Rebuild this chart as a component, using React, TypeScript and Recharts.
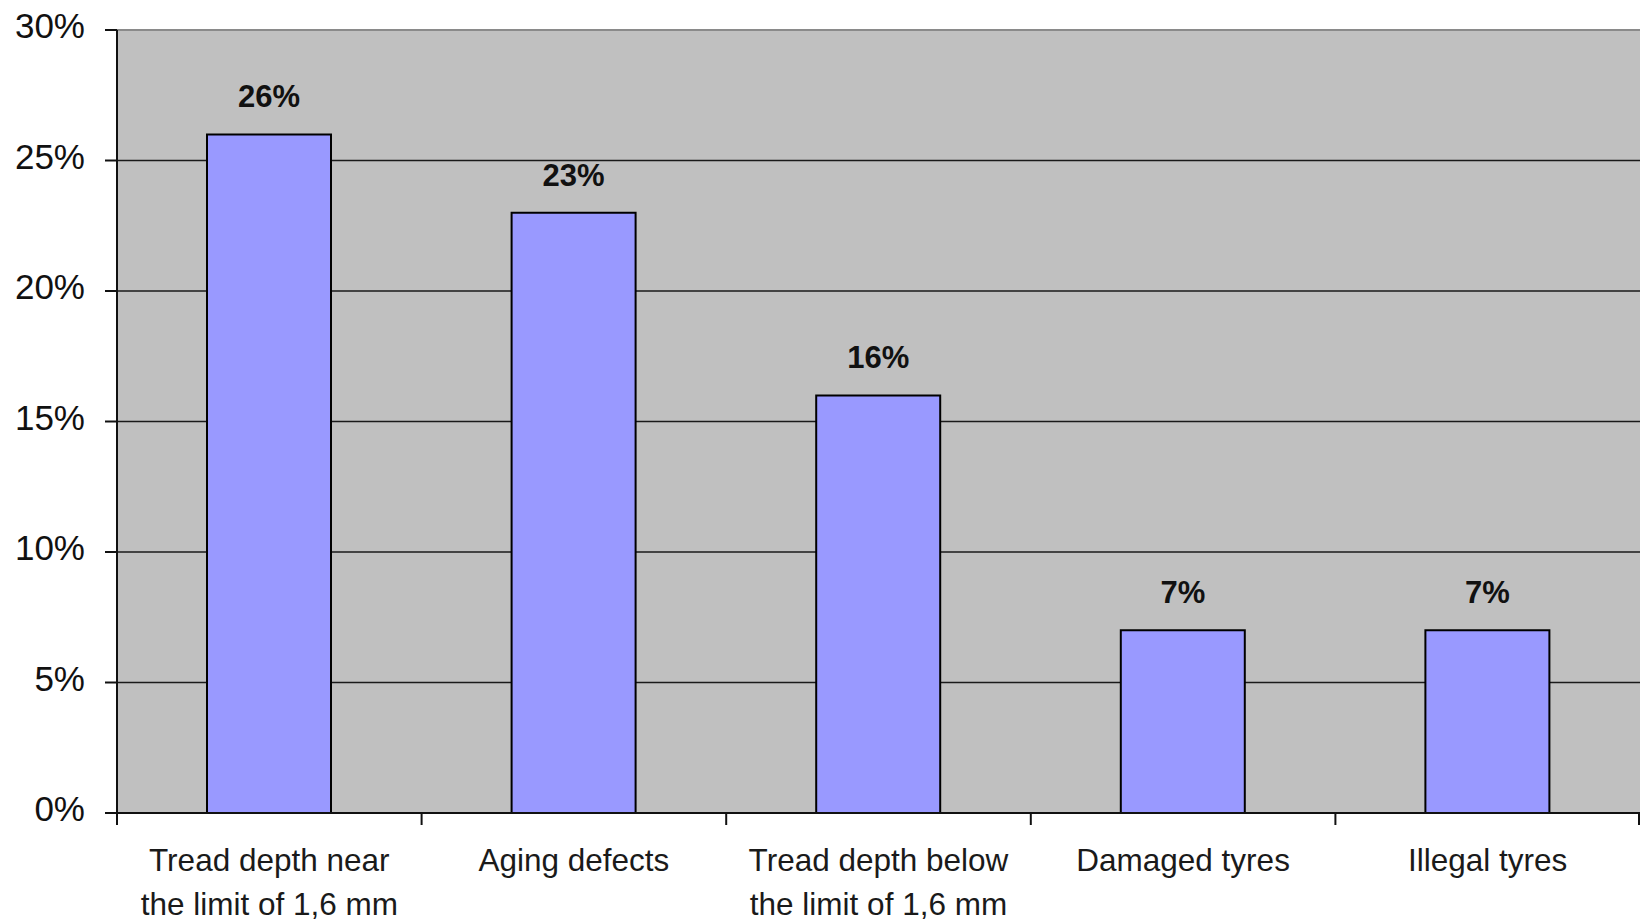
import { BarChart, Bar, XAxis, YAxis, CartesianGrid, LabelList, ReferenceLine } from "recharts";

// ─── Data ────────────────────────────────────────
const categories = [
  "Tread depth near\nthe limit of 1,6 mm",
  "Aging defects",
  "Tread depth below\nthe limit of 1,6 mm",
  "Damaged tyres",
  "Illegal tyres",
];
const shares = [26, 23, 16, 7, 7];
const yTicks = [0, 5, 10, 15, 20, 25, 30];

const data = categories.map((name, i) => ({ name, share: shares[i] }));

// ─── Layout ──────────────────────────────────────
const W = 1640;
const H = 923;
const Y_AXIS_W = 117;
const BAND = (W - Y_AXIS_W) / categories.length;
const FONT = "'Liberation Sans', Arial, sans-serif";

// Category tick: boundary tick marks plus one or two lines of text
function CategoryTick(props: any) {
  const { x, y, payload, index } = props;
  const lines = String(payload.value).split("\n");
  const left = x - BAND / 2;
  const right = x + BAND / 2;
  return (
    <g>
      <line x1={left} y1={y} x2={left} y2={y + 12} stroke="#111" strokeWidth={2} />
      {index === categories.length - 1 && (
        <line x1={right - 1} y1={y} x2={right - 1} y2={y + 12} stroke="#111" strokeWidth={2} />
      )}
      {lines.map((t, i) => (
        <text
          key={i}
          x={x}
          y={y + 58 + i * 44}
          textAnchor="middle"
          fontFamily={FONT}
          fontSize={31.5}
          fill="#1a1a1a"
        >
          {t}
        </text>
      ))}
    </g>
  );
}

export default function App() {
  return (
    <div style={{ position: "absolute", left: 0, top: 0, background: "#fff" }}>
      <BarChart
        width={W}
        height={H}
        data={data}
        margin={{ top: 30, right: 0, left: 0, bottom: 0 }}
      >
        <CartesianGrid
          vertical={false}
          fill="#C0C0C0"
          stroke="#1a1a1a"
          strokeWidth={1.5}
        />
        <ReferenceLine y={30} stroke="#8a8a8a" strokeWidth={2} />
        <XAxis
          dataKey="name"
          interval={0}
          height={110}
          tickLine={false}
          tickSize={0}
          tickMargin={0}
          axisLine={{ stroke: "#111", strokeWidth: 2 }}
          tick={<CategoryTick />}
        />
        <YAxis
          width={Y_AXIS_W}
          domain={[0, 30]}
          ticks={yTicks}
          interval={0}
          tickSize={12}
          tickMargin={20}
          axisLine={{ stroke: "#111", strokeWidth: 2 }}
          tickLine={{ stroke: "#111", strokeWidth: 2 }}
          tickFormatter={(v: number) => `${v}%`}
          tick={{ fontSize: 35, fill: "#111", fontFamily: FONT, dy: -4 }}
        />
        <Bar
          dataKey="share"
          barSize={124}
          fill="#9999FF"
          stroke="#000"
          strokeWidth={2}
          isAnimationActive={false}
        >
          <LabelList
            dataKey="share"
            position="top"
            offset={27}
            formatter={(v: any) => `${v}%`}
            fill="#111"
            fontSize={31}
            fontWeight="bold"
            fontFamily={FONT}
          />
        </Bar>
      </BarChart>
    </div>
  );
}
